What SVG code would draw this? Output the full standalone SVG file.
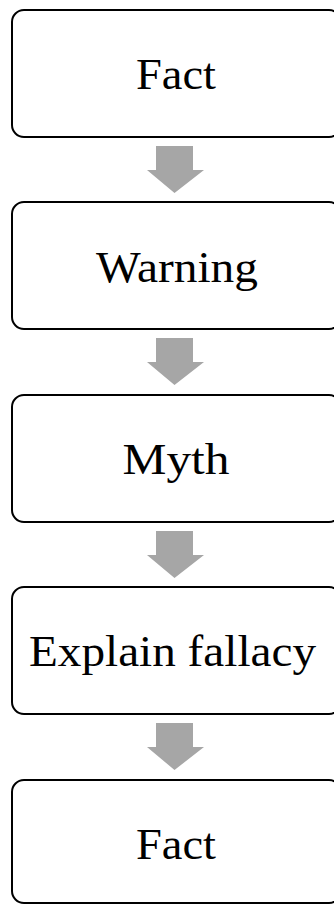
<svg xmlns="http://www.w3.org/2000/svg" width="334" height="904" viewBox="0 0 334 904">
<style>
.box{fill:#fff;stroke:#000;stroke-width:2}
.lbl{font-family:"Liberation Serif","Times New Roman",serif;font-size:45px;fill:#000;text-anchor:middle}
.arr{fill:#a6a6a6;stroke:none}
</style>
<defs>
<path id="downArrow" d="M-19.5,0 H17.5 V24 H28.5 L-1,47 L-28.5,24 H-19.5 Z"/>
</defs>
<rect width="334" height="904" fill="#fff"/>
<g id="connectors">
<use href="#downArrow" class="arr" x="175.5" y="146"/>
<use href="#downArrow" class="arr" x="175.5" y="338"/>
<use href="#downArrow" class="arr" x="175.5" y="531"/>
<use href="#downArrow" class="arr" x="175.5" y="723"/>
</g>
<g id="node1">
<rect class="box" x="12" y="10" width="329" height="127" rx="12" ry="12"/>
<text class="lbl" x="176" y="89" textLength="80" lengthAdjust="spacingAndGlyphs">Fact</text>
</g>
<g id="node2">
<rect class="box" x="12" y="202" width="329" height="127" rx="12" ry="12"/>
<text class="lbl" x="177" y="282" textLength="162" lengthAdjust="spacingAndGlyphs">Warning</text>
</g>
<g id="node3">
<rect class="box" x="12" y="395" width="329" height="127" rx="12" ry="12"/>
<text class="lbl" x="176" y="474" textLength="107" lengthAdjust="spacingAndGlyphs">Myth</text>
</g>
<g id="node4">
<rect class="box" x="12" y="587" width="329" height="127" rx="12" ry="12"/>
<text class="lbl" x="172.5" y="666" textLength="287" lengthAdjust="spacingAndGlyphs">Explain fallacy</text>
</g>
<g id="node5">
<rect class="box" x="12" y="780" width="329" height="123" rx="12" ry="12"/>
<text class="lbl" x="176" y="859" textLength="80" lengthAdjust="spacingAndGlyphs">Fact</text>
</g>
</svg>
